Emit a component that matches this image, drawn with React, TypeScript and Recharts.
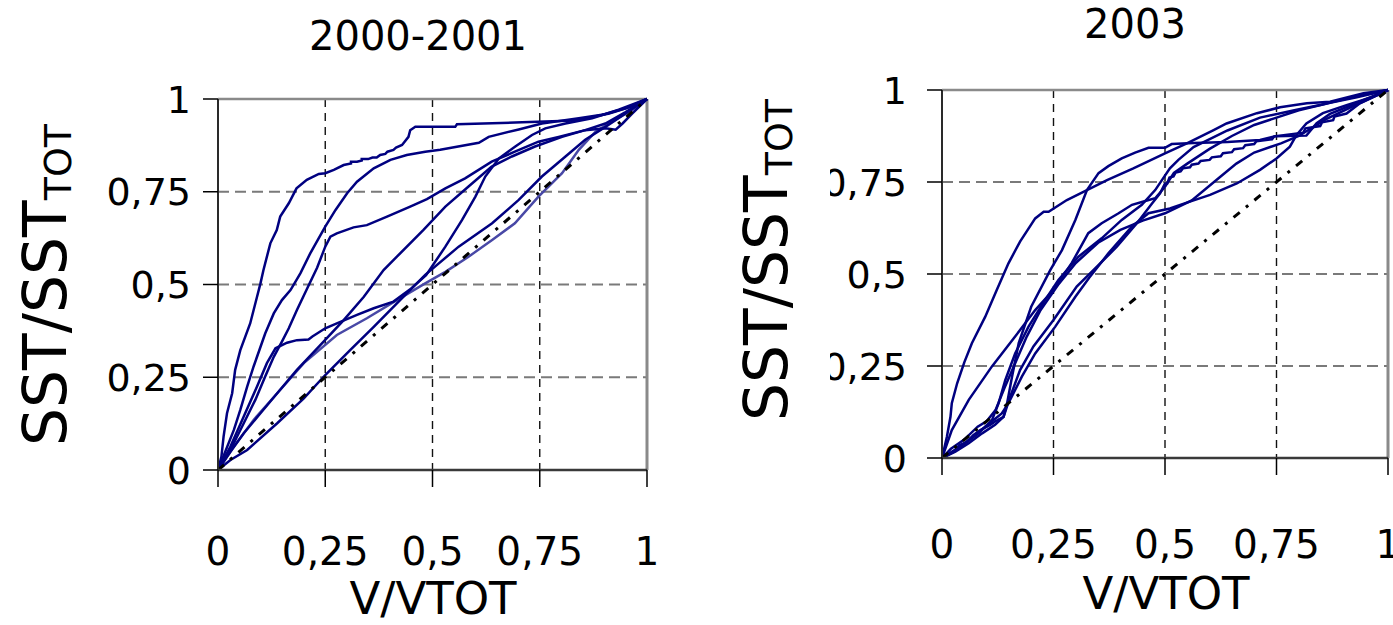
import { LineChart, Line, XAxis, YAxis, CartesianGrid, ReferenceLine } from "recharts";

type Pt = [number, number];

const FONT = "'DejaVu Sans', 'Liberation Sans', sans-serif";
const NAVY = "#000080";
const NAVY_LIGHT = "#4848a6";

// axis ticks (both panels)
const tickValues = [0, 0.25, 0.5, 0.75, 1];
const tickLabels = ["0", "0,25", "0,5", "0,75", "1"];
const gridValues = [0.25, 0.5, 0.75];

const leftTitle = "2000-2001";
const rightTitle = "2003";
const xTitle = "V/VTOT";
const yTitleMain = "SST/SST";
const yTitleSub = "TOT";

// 2000-2001 curves (V/VTOT, SST/SSTtot)
const left2000A: Pt[] = [
  [0, 0], [0.008, 0.036], [0.013, 0.09], [0.021, 0.153], [0.033, 0.207], [0.04, 0.27],
  [0.052, 0.323], [0.075, 0.395], [0.091, 0.467], [0.099, 0.503], [0.106, 0.539],
  [0.122, 0.611], [0.137, 0.647], [0.145, 0.683], [0.165, 0.719], [0.183, 0.759],
  [0.207, 0.782], [0.235, 0.798], [0.25, 0.8], [0.27, 0.809], [0.293, 0.822],
  [0.31, 0.826], [0.31, 0.831], [0.324, 0.831], [0.335, 0.834], [0.335, 0.838],
  [0.35, 0.838], [0.36, 0.842], [0.37, 0.842], [0.378, 0.849], [0.39, 0.852],
  [0.395, 0.858], [0.409, 0.863], [0.415, 0.869], [0.429, 0.876], [0.435, 0.885],
  [0.444, 0.898], [0.448, 0.916], [0.46, 0.925], [0.553, 0.925], [0.557, 0.932],
  [0.709, 0.937], [0.833, 0.942], [0.895, 0.957], [0.95, 0.975], [1, 1],
];
const left2000B: Pt[] = [
  [0, 0], [0.037, 0.108], [0.052, 0.162], [0.068, 0.225], [0.083, 0.279], [0.11, 0.368],
  [0.13, 0.422], [0.149, 0.458], [0.169, 0.485], [0.192, 0.53], [0.215, 0.584],
  [0.25, 0.656], [0.274, 0.701], [0.301, 0.746], [0.324, 0.777], [0.363, 0.813],
  [0.402, 0.836], [0.44, 0.849], [0.483, 0.858], [0.518, 0.863], [0.608, 0.882],
  [0.631, 0.898], [0.701, 0.918], [0.755, 0.934], [0.841, 0.948], [0.91, 0.96],
  [0.96, 0.978], [1, 1],
];
const left2000C: Pt[] = [
  [0, 0], [0.029, 0.054], [0.06, 0.126], [0.087, 0.189], [0.11, 0.252], [0.13, 0.305],
  [0.149, 0.346], [0.165, 0.382], [0.184, 0.431], [0.207, 0.487], [0.231, 0.545],
  [0.25, 0.602], [0.262, 0.629], [0.277, 0.638], [0.316, 0.654], [0.347, 0.66],
  [0.394, 0.683], [0.448, 0.71], [0.487, 0.73], [0.53, 0.759], [0.576, 0.786],
  [0.638, 0.831], [0.692, 0.858], [0.747, 0.885], [0.794, 0.898], [0.856, 0.916],
  [0.903, 0.934], [0.95, 0.965], [1, 1],
];
const left2000D: Pt[] = [
  [0, 0], [0.029, 0.063], [0.06, 0.144], [0.091, 0.225], [0.114, 0.288], [0.134, 0.328],
  [0.161, 0.343], [0.184, 0.35], [0.211, 0.352], [0.22, 0.36], [0.231, 0.368],
  [0.25, 0.382], [0.277, 0.395], [0.324, 0.418], [0.363, 0.436], [0.409, 0.454],
  [0.448, 0.487], [0.485, 0.525], [0.53, 0.602], [0.569, 0.674], [0.6, 0.737],
  [0.623, 0.791], [0.655, 0.84], [0.693, 0.872], [0.732, 0.903], [0.763, 0.921],
  [0.81, 0.934], [0.872, 0.948], [0.934, 0.971], [1, 1],
];
const left2000E: Pt[] = [
  [0, 0], [0.029, 0.049], [0.06, 0.099], [0.099, 0.153], [0.138, 0.207], [0.184, 0.27],
  [0.239, 0.337], [0.293, 0.404], [0.34, 0.467], [0.386, 0.539], [0.417, 0.575],
  [0.479, 0.647], [0.53, 0.71], [0.584, 0.764], [0.638, 0.818], [0.685, 0.845],
  [0.739, 0.872], [0.802, 0.898], [0.856, 0.916], [0.903, 0.921], [0.927, 0.917],
  [0.943, 0.934], [0.966, 0.961], [1, 1],
];
const left2000G: Pt[] = [
  [0, 0], [0.029, 0.027], [0.068, 0.054], [0.138, 0.126], [0.2, 0.193], [0.25, 0.256],
  [0.308, 0.323], [0.363, 0.386], [0.417, 0.449], [0.483, 0.526], [0.561, 0.602],
  [0.639, 0.665], [0.701, 0.728], [0.755, 0.791], [0.81, 0.845], [0.856, 0.89],
  [0.903, 0.925], [0.95, 0.961], [1, 1],
];
const left2000H: Pt[] = [
  [0, 0], [0.037, 0.063], [0.083, 0.135], [0.138, 0.207], [0.2, 0.288], [0.277, 0.364],
  [0.347, 0.409], [0.417, 0.458], [0.483, 0.503], [0.53, 0.534], [0.584, 0.575],
  [0.639, 0.62], [0.692, 0.665], [0.747, 0.737], [0.802, 0.8], [0.841, 0.863],
  [0.88, 0.912], [0.918, 0.939], [0.965, 0.97], [1, 1],
];

// 2003 curves
const right2003A: Pt[] = [
  [0, 0], [0.011, 0.058], [0.019, 0.112], [0.022, 0.149], [0.034, 0.203], [0.05, 0.26],
  [0.067, 0.312], [0.097, 0.384], [0.123, 0.457], [0.149, 0.529], [0.175, 0.588],
  [0.209, 0.651], [0.228, 0.669], [0.239, 0.669], [0.28, 0.701], [0.325, 0.728],
  [0.37, 0.755], [0.429, 0.787], [0.5, 0.828], [0.549, 0.855], [0.609, 0.891],
  [0.638, 0.909], [0.706, 0.937], [0.758, 0.953], [0.818, 0.964], [0.87, 0.968],
  [0.945, 0.991], [1, 1],
];
const right2003B: Pt[] = [
  [0, 0], [0.03, 0.017], [0.06, 0.04], [0.09, 0.067], [0.119, 0.09], [0.138, 0.112],
  [0.146, 0.149], [0.157, 0.221], [0.172, 0.312], [0.2, 0.411], [0.243, 0.511],
  [0.269, 0.565], [0.299, 0.647], [0.325, 0.728], [0.351, 0.774], [0.373, 0.793],
  [0.403, 0.814], [0.433, 0.83], [0.463, 0.843], [0.5, 0.843], [0.515, 0.853],
  [0.564, 0.856], [0.64, 0.859], [0.713, 0.864], [0.747, 0.874], [0.817, 0.876],
  [0.84, 0.91], [0.87, 0.935], [0.92, 0.96], [1, 1],
];
const right2003C: Pt[] = [
  [0, 0], [0.022, 0.076], [0.06, 0.158], [0.112, 0.249], [0.164, 0.33], [0.209, 0.402],
  [0.25, 0.457], [0.291, 0.53], [0.328, 0.611], [0.358, 0.638], [0.396, 0.665],
  [0.426, 0.688], [0.452, 0.697], [0.478, 0.706], [0.5, 0.737], [0.52, 0.775],
  [0.55, 0.8], [0.6, 0.84], [0.65, 0.875], [0.7, 0.905], [0.75, 0.925], [0.8, 0.945],
  [0.87, 0.965], [0.93, 0.98], [1, 1],
];
const right2003D: Pt[] = [
  [0, 0], [0.03, 0.02], [0.06, 0.049], [0.097, 0.085], [0.134, 0.121], [0.149, 0.149],
  [0.179, 0.221], [0.209, 0.284], [0.254, 0.357], [0.299, 0.438], [0.33, 0.49],
  [0.373, 0.556], [0.426, 0.629], [0.463, 0.665], [0.511, 0.678], [0.534, 0.688],
  [0.601, 0.715], [0.661, 0.746], [0.713, 0.783], [0.75, 0.814], [0.78, 0.846],
  [0.795, 0.878], [0.817, 0.909], [0.854, 0.937], [0.907, 0.959], [0.967, 0.982], [1, 1],
];
const right2003E: Pt[] = [
  [0, 0], [0.026, 0.017], [0.04, 0.035], [0.056, 0.044], [0.07, 0.062], [0.086, 0.076],
  [0.108, 0.09], [0.12, 0.1], [0.138, 0.112], [0.153, 0.167], [0.175, 0.239],
  [0.205, 0.303], [0.25, 0.375], [0.302, 0.466], [0.34, 0.511], [0.392, 0.574],
  [0.437, 0.638], [0.47, 0.69], [0.489, 0.719], [0.5, 0.746], [0.505, 0.746],
  [0.51, 0.762], [0.519, 0.765], [0.524, 0.776], [0.535, 0.779], [0.54, 0.787],
  [0.556, 0.79], [0.56, 0.797], [0.575, 0.8], [0.58, 0.807], [0.6, 0.81], [0.605, 0.817],
  [0.625, 0.82], [0.63, 0.828], [0.65, 0.831], [0.655, 0.839], [0.675, 0.842],
  [0.68, 0.85], [0.7, 0.853], [0.705, 0.861], [0.74, 0.866], [0.745, 0.874],
  [0.81, 0.884], [0.815, 0.896], [0.848, 0.902], [0.852, 0.912], [0.877, 0.918],
  [0.88, 0.928], [0.907, 0.936], [0.937, 0.964], [1, 1],
];
const right2003F: Pt[] = [
  [0, 0], [0.022, 0.017], [0.052, 0.04], [0.082, 0.067], [0.112, 0.103], [0.127, 0.149],
  [0.142, 0.212], [0.164, 0.284], [0.194, 0.357], [0.231, 0.429], [0.261, 0.484],
  [0.306, 0.547], [0.358, 0.597], [0.403, 0.647], [0.448, 0.688], [0.478, 0.728],
  [0.511, 0.787], [0.53, 0.81], [0.564, 0.845], [0.64, 0.89], [0.713, 0.925],
  [0.79, 0.945], [0.85, 0.96], [0.92, 0.98], [1, 1],
];
const right2003G: Pt[] = [
  [0, 0], [0.02, 0.025], [0.05, 0.05], [0.08, 0.085], [0.1, 0.1], [0.12, 0.13],
  [0.14, 0.19], [0.165, 0.26], [0.19, 0.33], [0.22, 0.4], [0.26, 0.47], [0.3, 0.53],
  [0.35, 0.585], [0.4, 0.62], [0.45, 0.645], [0.5, 0.665], [0.56, 0.7], [0.62, 0.76],
  [0.66, 0.8], [0.7, 0.83], [0.76, 0.855], [0.8, 0.875], [0.86, 0.92], [0.92, 0.955], [1, 1],
];

const diagonal: Pt[] = [[0, 0], [1, 1]];

const leftCurves = [left2000A, left2000B, left2000C, left2000D, left2000E, left2000G];
const leftLightCurves = [left2000H];
const rightCurves = [right2003A, right2003B, right2003C, right2003D, right2003E, right2003F, right2003G];

const toRows = (pts: Pt[]) => pts.map(([x, y]) => ({ x, y }));

const labelFor = (v: number) => tickLabels[tickValues.indexOf(v)] ?? String(v);

function YTick(props: any) {
  const { x, y, payload } = props;
  return (
    <text x={x} y={y} dy="0.36em" textAnchor="end" fontSize={38} fontFamily={FONT} fill="#000">
      {labelFor(payload.value)}
    </text>
  );
}

function XTick(props: any) {
  const { x, y, payload } = props;
  return (
    <text x={x} y={y} dy="0.73em" textAnchor="middle" fontSize={39} fontFamily={FONT} fill="#000">
      {labelFor(payload.value)}
    </text>
  );
}

interface PanelProps {
  curves: Pt[][];
  lightCurves?: Pt[][];
  left: number;
  boxWidth: number;
  width: number;
  height: number;
  top: number;
  right: number;
  yAxisWidth: number;
  xAxisHeight: number;
  xTickMargin: number;
  yTickMargin: number;
}

function Panel({
  curves,
  lightCurves = [],
  left,
  boxWidth,
  width,
  height,
  top,
  right,
  yAxisWidth,
  xAxisHeight,
  xTickMargin,
  yTickMargin,
}: PanelProps) {
  return (
    <div style={{ position: "absolute", left, top: 0, width: boxWidth, height, overflow: "hidden" }}>
      <LineChart width={width} height={height} margin={{ top, right, bottom: 0, left: 0 }}>
        <CartesianGrid
          horizontal={false}
          verticalValues={gridValues}
          stroke="#111"
          strokeDasharray="8 6"
          strokeWidth={1.4}
        />
        <CartesianGrid
          vertical={false}
          horizontalValues={gridValues}
          stroke="#7a7a7a"
          strokeDasharray="11 6"
          strokeWidth={2}
        />
        <XAxis
          type="number"
          dataKey="x"
          domain={[0, 1]}
          ticks={tickValues}
          interval={0}
          height={xAxisHeight}
          tickSize={17}
          tickMargin={xTickMargin}
          axisLine={{ stroke: "#3a3a3a", strokeWidth: 2.5 }}
          tickLine={{ stroke: "#000", strokeWidth: 1.5 }}
          tick={(p: any) => <XTick {...p} />}
        />
        <YAxis
          type="number"
          domain={[0, 1]}
          ticks={tickValues}
          interval={0}
          width={yAxisWidth}
          tickSize={15}
          tickMargin={yTickMargin}
          axisLine={{ stroke: "#2a2a2a", strokeWidth: 2 }}
          tickLine={{ stroke: "#000", strokeWidth: 1.5 }}
          tick={(p: any) => <YTick {...p} />}
        />
        <ReferenceLine y={1} stroke="#8a8a8a" strokeWidth={2.5} />
        <ReferenceLine x={1} stroke="#8a8a8a" strokeWidth={3} />
        {lightCurves.map((c, i) => (
          <Line
            key={`l${i}`}
            data={toRows(c)}
            dataKey="y"
            type="linear"
            stroke={NAVY_LIGHT}
            strokeWidth={2.5}
            dot={false}
            isAnimationActive={false}
          />
        ))}
        {curves.map((c, i) => (
          <Line
            key={`c${i}`}
            data={toRows(c)}
            dataKey="y"
            type="linear"
            stroke={NAVY}
            strokeWidth={2.5}
            dot={false}
            isAnimationActive={false}
          />
        ))}
        <Line
          data={toRows(diagonal)}
          dataKey="y"
          type="linear"
          stroke="#000"
          strokeWidth={3}
          strokeDasharray="8 8 3 8"
          dot={false}
          isAnimationActive={false}
        />
      </LineChart>
    </div>
  );
}

function YTitle({ x, y }: { x: number; y: number }) {
  return (
    <text transform={`translate(${x} ${y}) rotate(-90)`} textAnchor="middle" fontSize={60} fontFamily={FONT} fill="#000">
      <tspan>{yTitleMain}</tspan>
      <tspan fontSize={38} dy={5}>
        {yTitleSub}
      </tspan>
    </text>
  );
}

export default function App() {
  return (
    <div
      style={{
        position: "fixed",
        left: 0,
        top: 0,
        width: 1393,
        height: 625,
        overflow: "hidden",
        background: "#fff",
      }}
    >
      <Panel
        curves={leftCurves}
        lightCurves={leftLightCurves}
        left={0}
        boxWidth={700}
        width={700}
        height={625}
        top={99}
        right={53}
        yAxisWidth={218}
        xAxisHeight={155}
        xTickMargin={50}
        yTickMargin={12}
      />
      <Panel
        curves={rightCurves}
        left={830}
        boxWidth={563}
        width={587}
        height={625}
        top={90}
        right={29}
        yAxisWidth={112}
        xAxisHeight={167}
        xTickMargin={55}
        yTickMargin={20}
      />
      <svg
        width={1393}
        height={625}
        style={{ position: "absolute", left: 0, top: 0, pointerEvents: "none" }}
      >
        <text x={418} y={50} textAnchor="middle" fontSize={40} fontFamily={FONT} fill="#000">
          {leftTitle}
        </text>
        <text x={433} y={614} textAnchor="middle" fontSize={45} fontFamily={FONT} fill="#000">
          {xTitle}
        </text>
        <YTitle x={66} y={285} />
        <text x={1135} y={38} textAnchor="middle" fontSize={40} fontFamily={FONT} fill="#000">
          {rightTitle}
        </text>
        <text x={1166} y={609} textAnchor="middle" fontSize={45} fontFamily={FONT} fill="#000">
          {xTitle}
        </text>
        <YTitle x={787} y={260} />
      </svg>
    </div>
  );
}
